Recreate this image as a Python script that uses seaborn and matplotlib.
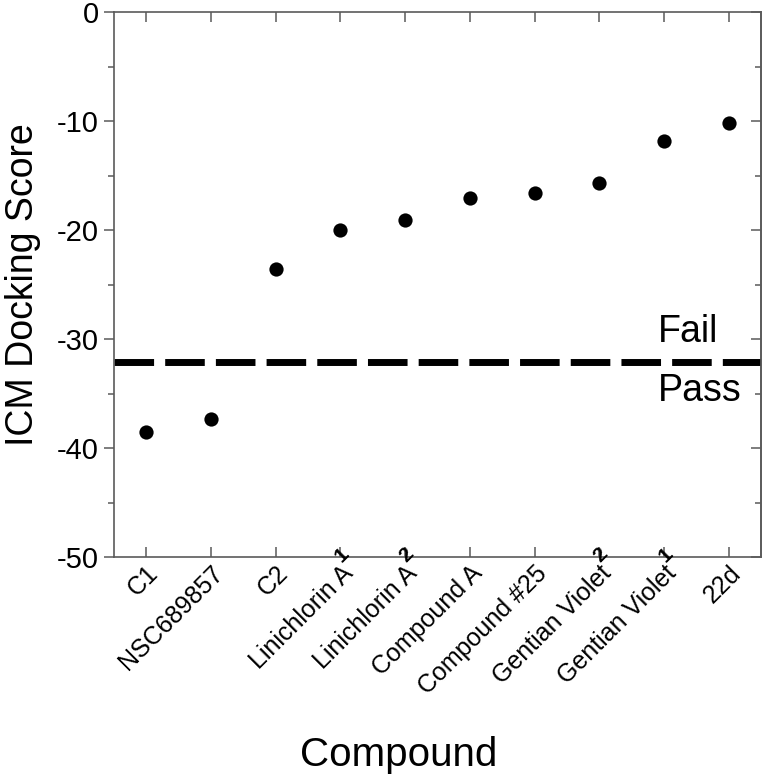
import matplotlib
matplotlib.use('Agg')
import matplotlib.pyplot as plt
import matplotlib.transforms as mtransforms
from matplotlib.ticker import MultipleLocator
import seaborn as sns
import pandas as pd

compounds = ["C1", "NSC689857", "C2", "Linichlorin A", "Linichlorin A",
             "Compound A", "Compound #25", "Gentian Violet", "Gentian Violet", "22d"]
superscripts = ["", "", "", "1", "2", "", "", "2", "1", ""]
scores = [-38.5, -37.3, -23.6, -20.0, -19.1, -17.1, -16.6, -15.7, -11.8, -10.2]
threshold = -32.1
yticks = [0, -10, -20, -30, -40, -50]

sns.set_theme(style='white')
plt.rcParams['font.family'] = ['Liberation Sans', 'DejaVu Sans']
plt.rcParams['axes.unicode_minus'] = False
plt.rcParams['text.color'] = 'black'
plt.rcParams['axes.labelcolor'] = 'black'

fig = plt.figure(figsize=(7.65, 7.77), dpi=100)
ax = fig.add_axes([114/765, 1-557/777, 647/765, 545/777])

df = pd.DataFrame({'pos': list(range(len(scores))), 'score': scores})
sns.scatterplot(data=df, x='pos', y='score', color='black', s=105, linewidth=0,
                ax=ax, legend=False)

ax.axhline(threshold, color='black', lw=5, linestyle=(0, (5.7, 1.6)))

ax.set_xlim(-0.5, len(scores) - 0.5)
ax.set_ylim(-50, 0)

label_fs = 18
pad = 3
ax.set_xticks(range(len(scores)))
ax.set_xticklabels(compounds, rotation=45, ha='right', rotation_mode='anchor',
                   fontsize=label_fs)
ax.set_yticks(yticks)
ax.set_yticklabels([str(t) for t in yticks], fontsize=21)
ax.yaxis.set_minor_locator(MultipleLocator(5))

gray = '#5a5a5a'
for sp in ax.spines.values():
    sp.set_visible(True)
    sp.set_color(gray)
    sp.set_linewidth(1.2)

ax.tick_params(axis='x', which='major', direction='in', length=7, width=1.1,
               color=gray, labelcolor='black', top=True, bottom=True, pad=pad)
ax.tick_params(axis='y', which='major', direction='out', length=7, width=1.1,
               color=gray, labelcolor='black', left=True, right=False, pad=4)
ax.tick_params(axis='y', which='minor', direction='out', length=4, width=1.1,
               color=gray, left=True, right=False)

sec = ax.secondary_yaxis('right')
sec.set_yticks(yticks)
sec.yaxis.set_minor_locator(MultipleLocator(5))
sec.tick_params(axis='y', which='major', direction='in', length=7, width=1.1,
                color=gray, labelright=False)
sec.tick_params(axis='y', which='minor', direction='in', length=4, width=1.1,
                color=gray, labelright=False)
sec.spines['right'].set_color(gray)
sec.spines['right'].set_linewidth(1.2)

# bold superscripts after the label ends
blend = mtransforms.blended_transform_factory(ax.transData, ax.transAxes)
u, v = 0.0, -0.08 * label_fs
dx = (u - v) / 2 ** 0.5
dy = -pad + (u + v) / 2 ** 0.5
for i, s in enumerate(superscripts):
    if s:
        ax.annotate(s, xy=(i, 0), xycoords=blend, xytext=(dx, dy),
                    textcoords='offset points', rotation=45,
                    rotation_mode='anchor', ha='left', va='baseline',
                    fontsize=15, fontweight='bold', annotation_clip=False)

ax.text(7.9, -29.4, 'Fail', fontsize=27, va='center', ha='left')
ax.text(7.9, -34.8, 'Pass', fontsize=27, va='center', ha='left')

ax.set_xlabel('Compound', fontsize=29)
ax.set_ylabel('ICM Docking Score', fontsize=27)
ax.xaxis.set_label_coords(0.44, -0.328)
ax.yaxis.set_label_coords(-0.113, 0.5)

fig.savefig('out.png', dpi=100)
